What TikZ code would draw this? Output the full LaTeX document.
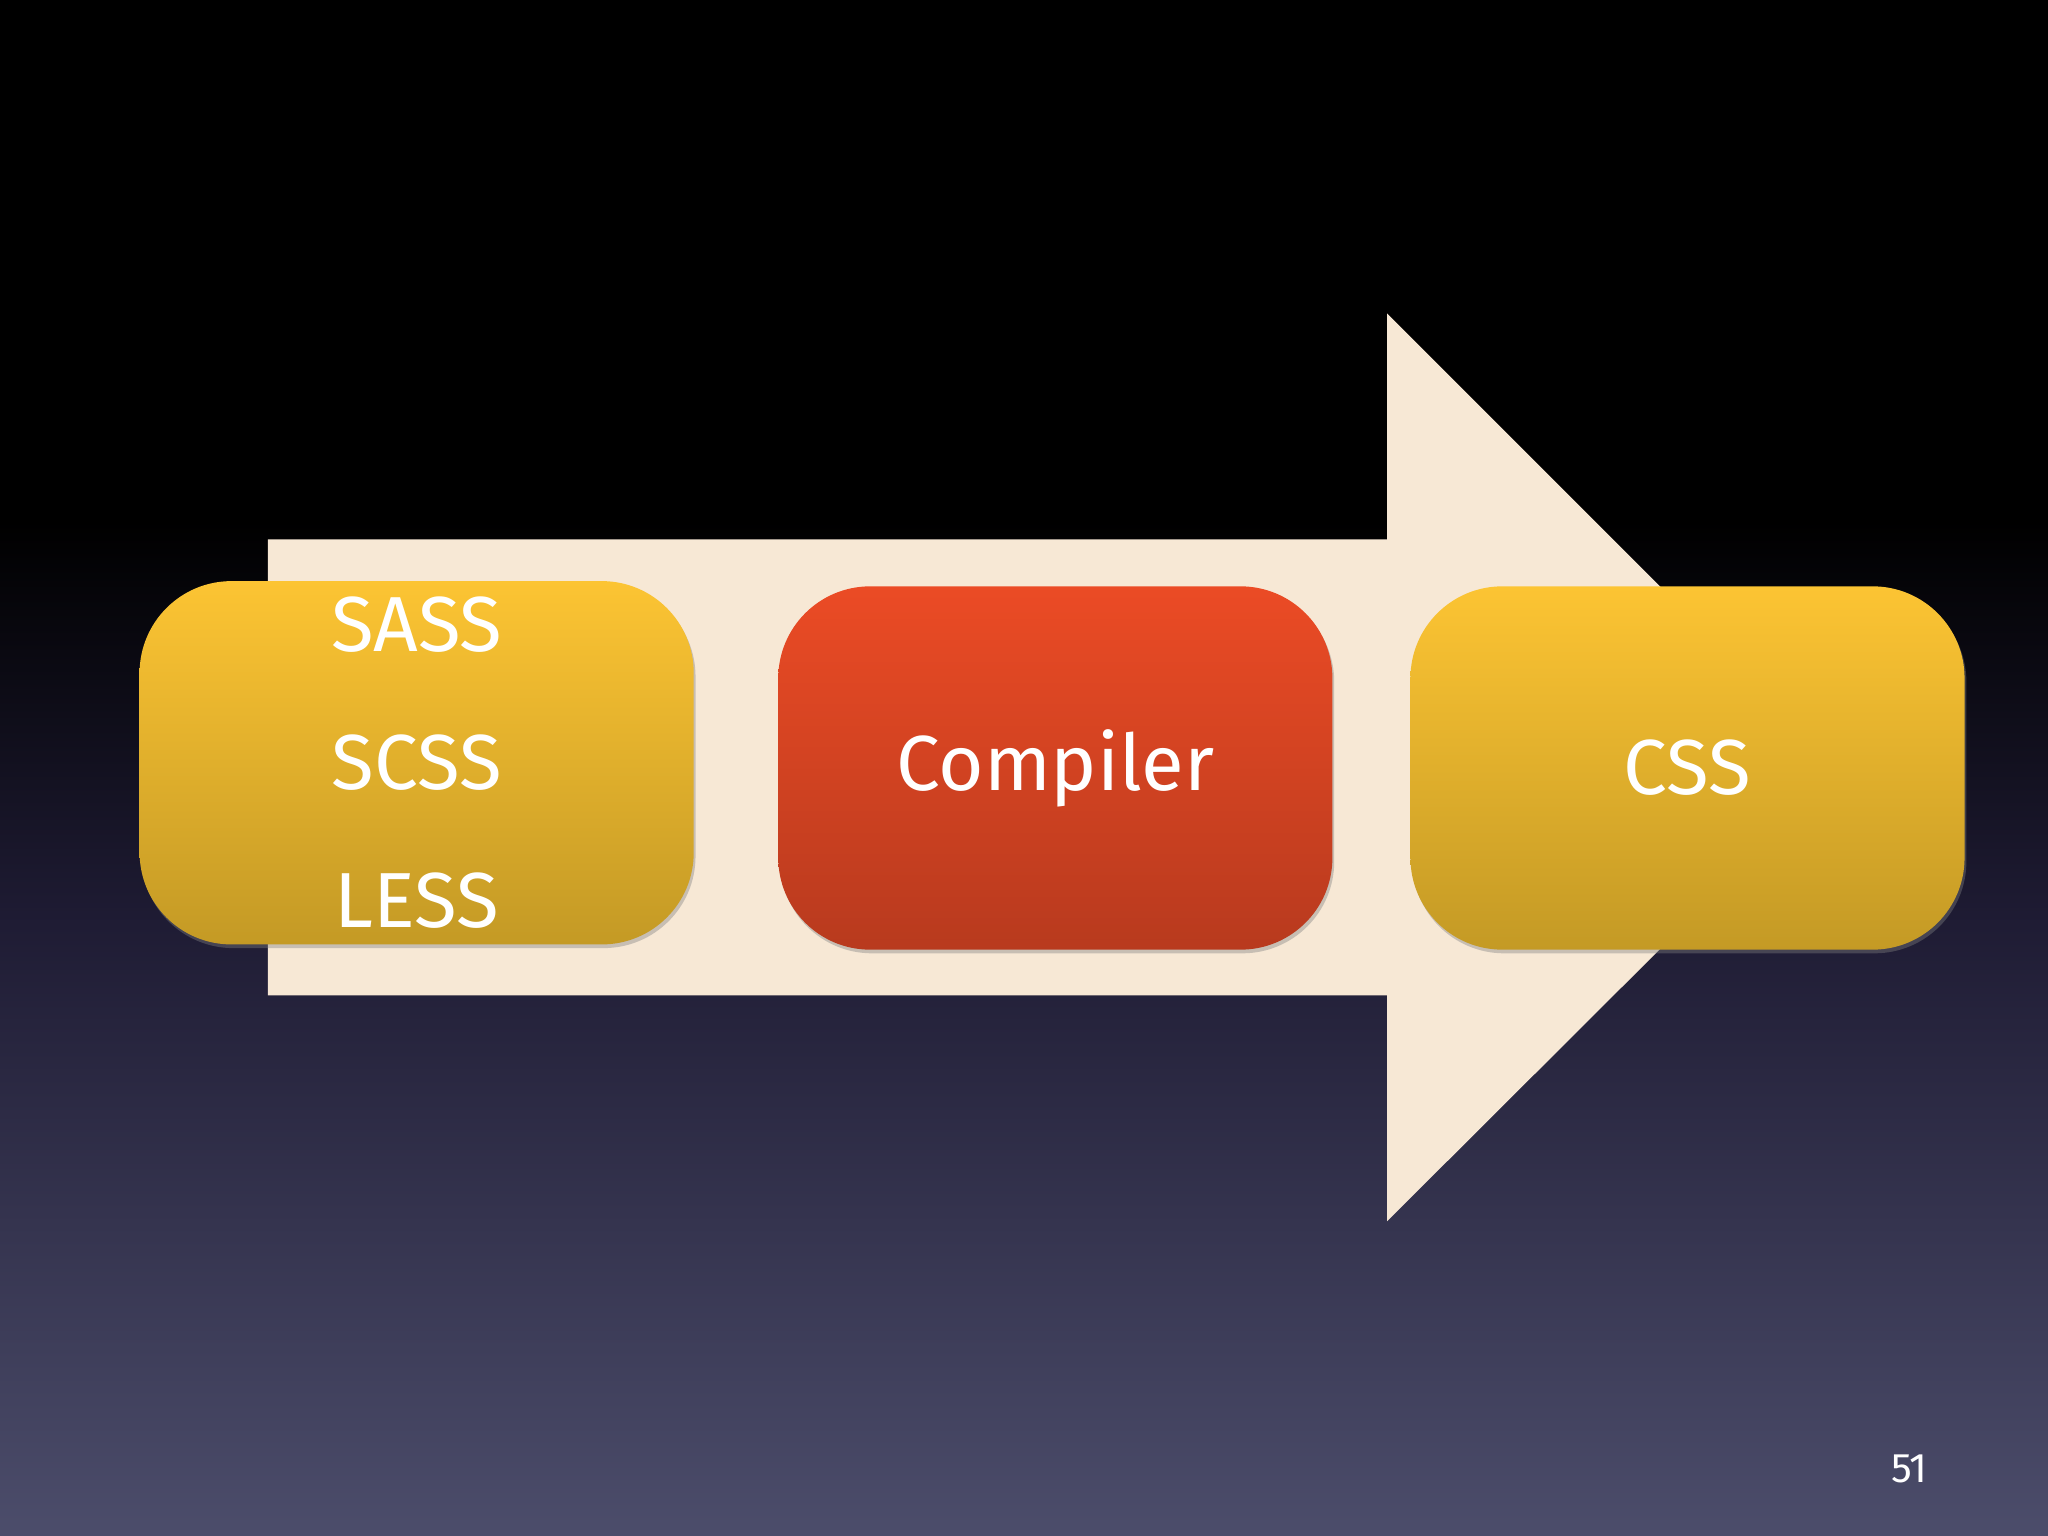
\documentclass[tikz,border=0pt]{standalone}
\usepackage{fontspec}
\setmainfont{Fira Sans}
\usetikzlibrary{positioning,shadows}
\definecolor{arrowfill}{HTML}{F7E8D5}
\definecolor{ytop}{HTML}{FCC433}
\definecolor{ybot}{HTML}{C49A25}
\definecolor{rtop}{HTML}{EB4B25}
\definecolor{rbot}{HTML}{B83A1E}
\definecolor{bgbot}{HTML}{4C4D6B}
\definecolor{bgmid}{HTML}{1E1B33}
\tikzset{
  stage/.style={rounded corners=20pt,minimum width=4.24cm,minimum height=2.78cm,
    text=white,font=\fontsize{17}{30}\selectfont,align=center,
    drop shadow={opacity=0.4,shadow xshift=0.4pt,shadow yshift=-0.8pt}},
  yellowstage/.style={stage,top color=ytop,bottom color=ybot},
  redstage/.style={stage,top color=rtop,bottom color=rbot}
}
\begin{document}
\begin{tikzpicture}[x=0.01cm,y=0.01cm]
  \useasboundingbox (0,0) rectangle (1568,-1176);
  \fill[black] (0,0) rectangle (1568,-400);
  \shade[top color=black,bottom color=bgmid] (0,-399) rectangle (1568,-700);
  \shade[top color=bgmid,bottom color=bgbot] (0,-699) rectangle (1568,-1176);

  % big arrow
  \fill[arrowfill] (205,-413) -- (1062,-413) -- (1062,-240) -- (1410,-588)
    -- (1062,-935) -- (1062,-762) -- (205,-762) -- cycle;

  \node[yellowstage] (src) at (319,-584) {SASS\\SCSS\\LESS};
  \node[redstage] (comp) at (808,-588) {Compiler};
  \node[yellowstage] (out) at (1292,-588) {CSS};

  \node[text=white,font=\fontsize{9}{10}\selectfont] (page) at (1462,-1125) {51};
\end{tikzpicture}
\end{document}
